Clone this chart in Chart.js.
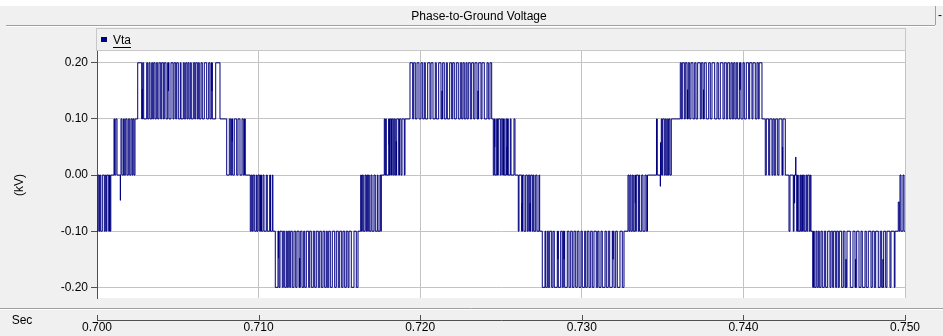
<!DOCTYPE html>
<html>
<head>
<meta charset="utf-8">
<script src="https://cdn.jsdelivr.net/npm/chart.js@4.4.1/dist/chart.umd.min.js"></script>
<style>
  html, body { margin: 0; padding: 0; background: #f0f0f0; }
  canvas { display: block; }
</style>
</head>
<body>
<canvas id="plot" width="943" height="336"></canvas>
<script>
// ---- text ----
const chartTitle = 'Phase-to-Ground Voltage';
const seriesName = 'Vta';
const yAxisTitle = '(kV)';
const xAxisTitle = 'Sec';

// ---- axes ----
const xTickValues = [0.70, 0.71, 0.72, 0.73, 0.74, 0.75];
const xTickLabels = ['0.700', '0.710', '0.720', '0.730', '0.740', '0.750'];
const yTickValues = [-0.2, -0.1, 0, 0.1, 0.2];
const yTickLabels = ['-0.20', '-0.10', '0.00', '0.10', '0.20'];

// ---- phase voltage Vta (kV) ----
const startLevel = -0.1;
// each switching band toggles between its lower and upper level
const bandLow  = [-0.1, 0, 0.1, 0, -0.1, -0.2, -0.1, 0, 0.1, 0, -0.1, -0.2, -0.1, 0, 0.1, 0, -0.1, -0.2, -0.1];
const bandHigh = [0, 0.1, 0.2, 0.1, 0, -0.1, 0, 0.1, 0.2, 0.1, 0, -0.1, 0, 0.1, 0.2, 0.1, 0, -0.1, 0];
// switching instants (s) inside each band
const bandEdges = [
  [0.700062, 0.700124, 0.700167, 0.700229, 0.700328, 0.700452, 0.700514, 0.700575, 0.700613, 0.700724, 0.700773, 0.700817, 0.700854],
  [0.701052, 0.701089, 0.701163, 0.701238, 0.701485, 0.701547, 0.701646, 0.701689, 0.701776, 0.701856, 0.701937, 0.702024, 0.702104, 0.702178, 0.702228, 0.702290, 0.702351],
  [0.702519, 0.702766, 0.702828, 0.702890, 0.703075, 0.703137, 0.703218, 0.703280, 0.703385, 0.703447, 0.703509, 0.703589, 0.703670, 0.703756, 0.703837, 0.703942, 0.704004, 0.704103, 0.704165, 0.704270, 0.704375, 0.704455, 0.704579, 0.704703, 0.704765, 0.704870, 0.704932, 0.705031, 0.705155, 0.705198, 0.705340, 0.705402, 0.705489, 0.705569, 0.705631, 0.705693, 0.705773, 0.705835, 0.705959, 0.706046, 0.706108, 0.706207, 0.706268, 0.706330, 0.706436, 0.706516, 0.706640, 0.706788, 0.706912, 0.706992, 0.707073, 0.707135, 0.707345, 0.707611],
  [0.708026, 0.708187, 0.708273, 0.708335, 0.708397, 0.708496, 0.708645, 0.708725, 0.708849, 0.708973, 0.709053, 0.709127, 0.709177],
  [0.709486, 0.709548, 0.709610, 0.709666, 0.709759, 0.709858, 0.709901, 0.709963, 0.710068, 0.710117, 0.710179, 0.710272, 0.710334, 0.710476, 0.710538, 0.710687, 0.710736, 0.710848, 0.710885],
  [0.711033, 0.711200, 0.711262, 0.711324, 0.711466, 0.711528, 0.711615, 0.711714, 0.711776, 0.711838, 0.711924, 0.711986, 0.712085, 0.712190, 0.712296, 0.712376, 0.712500, 0.712580, 0.712685, 0.712791, 0.712853, 0.712952, 0.713100, 0.713162, 0.713261, 0.713385, 0.713471, 0.713570, 0.713694, 0.713781, 0.713880, 0.713985, 0.714090, 0.714189, 0.714251, 0.714338, 0.714437, 0.714560, 0.714709, 0.714808, 0.714932, 0.715018, 0.715142, 0.715222, 0.715328, 0.715427, 0.715532, 0.715594, 0.715736, 0.715903, 0.716046, 0.716151],
  [0.716318, 0.716361, 0.716417, 0.716479, 0.716584, 0.716646, 0.716689, 0.716751, 0.716788, 0.716850, 0.716955, 0.717017, 0.717141, 0.717221, 0.717345, 0.717388, 0.717512, 0.717562, 0.717593],
  [0.717778, 0.717821, 0.717865, 0.717902, 0.718051, 0.718100, 0.718149, 0.718224, 0.718267, 0.718335, 0.718397, 0.718459, 0.718546, 0.718669, 0.718719, 0.718812, 0.718873, 0.719016, 0.719059],
  [0.719368, 0.719535, 0.719597, 0.719696, 0.719802, 0.719925, 0.720049, 0.720154, 0.720253, 0.720315, 0.720464, 0.720606, 0.720668, 0.720792, 0.720934, 0.720996, 0.721144, 0.721287, 0.721392, 0.721491, 0.721615, 0.721677, 0.721825, 0.721949, 0.722011, 0.722110, 0.722234, 0.722357, 0.722481, 0.722568, 0.722648, 0.722728, 0.722834, 0.722896, 0.722976, 0.723100, 0.723186, 0.723310, 0.723391, 0.723514, 0.723620, 0.723762, 0.723824, 0.723966, 0.724133, 0.724214, 0.724319, 0.724424],
  [0.724523, 0.724585, 0.724628, 0.724733, 0.724783, 0.724832, 0.724956, 0.725012, 0.725105, 0.725154, 0.725204, 0.725309, 0.725359, 0.725402, 0.725451, 0.725575, 0.725619, 0.725804, 0.725866],
  [0.726070, 0.726113, 0.726280, 0.726330, 0.726423, 0.726528, 0.726627, 0.726689, 0.726776, 0.726837, 0.726936, 0.726992, 0.727042, 0.727147, 0.727227, 0.727351, 0.727394],
  [0.727555, 0.727722, 0.727766, 0.727865, 0.727927, 0.728013, 0.728137, 0.728217, 0.728298, 0.728483, 0.728545, 0.728694, 0.728793, 0.728855, 0.728941, 0.729102, 0.729207, 0.729313, 0.729412, 0.729517, 0.729622, 0.729721, 0.729826, 0.729950, 0.730030, 0.730179, 0.730241, 0.730340, 0.730445, 0.730550, 0.730649, 0.730754, 0.730897, 0.730983, 0.731064, 0.731188, 0.731268, 0.731435, 0.731515, 0.731639, 0.731726, 0.731887, 0.731992, 0.732097, 0.732196, 0.732363, 0.732506, 0.732611],
  [0.732858, 0.732920, 0.732982, 0.733044, 0.733124, 0.733186, 0.733291, 0.733335, 0.733372, 0.733496, 0.733539, 0.733582, 0.733706, 0.733786, 0.733910, 0.733991, 0.734065],
  [0.734622, 0.734671, 0.734919, 0.734962, 0.735005, 0.735105, 0.735166, 0.735228, 0.735315, 0.735352, 0.735395, 0.735457, 0.735538],
  [0.736095, 0.736157, 0.736218, 0.736342, 0.736404, 0.736509, 0.736590, 0.736676, 0.736757, 0.736880, 0.736986, 0.737066, 0.737171, 0.737332, 0.737394, 0.737499, 0.737580, 0.737703, 0.737852, 0.737951, 0.738056, 0.738223, 0.738366, 0.738446, 0.738570, 0.738737, 0.738817, 0.738941, 0.739028, 0.739151, 0.739232, 0.739312, 0.739399, 0.739479, 0.739560, 0.739647, 0.739770, 0.739851, 0.739974, 0.740055, 0.740179, 0.740327, 0.740389, 0.740531, 0.740593, 0.740736, 0.740841, 0.740921, 0.740977, 0.741150],
  [0.741354, 0.741416, 0.741565, 0.741627, 0.741769, 0.741831, 0.741911, 0.741998, 0.742122, 0.742202, 0.742388, 0.742450, 0.742592],
  [0.742821, 0.742883, 0.743087, 0.743130, 0.743297, 0.743347, 0.743396, 0.743502, 0.743545, 0.743607, 0.743656, 0.743706, 0.743768, 0.743873, 0.743922, 0.743978, 0.744077, 0.744139, 0.744182],
  [0.744288, 0.744337, 0.744387, 0.744492, 0.744554, 0.744634, 0.744696, 0.744801, 0.744882, 0.745006, 0.745092, 0.745216, 0.745358, 0.745420, 0.745525, 0.745587, 0.745711, 0.745773, 0.745872, 0.745934, 0.746082, 0.746181, 0.746286, 0.746410, 0.746614, 0.746781, 0.746905, 0.747010, 0.747153, 0.747276, 0.747357, 0.747524, 0.747604, 0.747728, 0.747895, 0.747976, 0.748100, 0.748186, 0.748347, 0.748471, 0.748557, 0.748681, 0.748805, 0.748885, 0.749071, 0.749133, 0.749337, 0.749380],
  [0.749690, 0.749752, 0.749876, 0.749938]
];
// short partial excursions: [start s, end s, level kV]
const glitches = [
  [0.701442, 0.701452, -0.045],
  [0.702797, 0.702807, 0.153],
  [0.704412, 0.704422, 0.150],
  [0.707104, 0.707114, 0.150],
  [0.708366, 0.708376, 0.060],
  [0.711231, 0.711241, -0.148],
  [0.712537, 0.712547, -0.148],
  [0.718075, 0.718085, 0.054],
  [0.718515, 0.718525, 0.060],
  [0.721349, 0.721359, 0.150],
  [0.723576, 0.723586, 0.150],
  [0.724603, 0.724613, 0.050],
  [0.725371, 0.725381, 0.050],
  [0.726299, 0.726309, -0.050],
  [0.726794, 0.726804, -0.050],
  [0.728514, 0.728524, -0.150],
  [0.728898, 0.728908, -0.150],
  [0.731930, 0.731940, -0.150],
  [0.733310, 0.733320, -0.050],
  [0.734857, 0.734867, -0.020],
  [0.734876, 0.734886, 0.058],
  [0.736540, 0.736550, 0.152],
  [0.737530, 0.737540, 0.152],
  [0.739789, 0.739799, 0.152],
  [0.742419, 0.742429, 0.050],
  [0.743161, 0.743171, -0.050],
  [0.743236, 0.743246, 0.032],
  [0.746348, 0.746358, -0.150],
  [0.746936, 0.746946, -0.150],
  [0.748638, 0.748648, -0.150],
  [0.749584, 0.749646, -0.048]
];

// ---- colours ----
const traceColor = '#000080';
const gridColor = '#c3c3c3';
const axisColor = '#505050';
const panelColor = '#f0f0f0';
const fontFamily = '"Liberation Sans", Arial, sans-serif';

// build the stepped trace
const basePoints = [{ x: 0.70, y: startLevel }];
let level = startLevel;
bandEdges.forEach((edges, i) => {
  edges.forEach(t => {
    level = (level === bandLow[i]) ? bandHigh[i] : bandLow[i];
    basePoints.push({ x: t, y: level });
  });
});
basePoints.push({ x: 0.75, y: level });

function levelAt(t) {
  let v = basePoints[0].y;
  for (const p of basePoints) { if (p.x <= t) v = p.y; else break; }
  return v;
}
const glitchPoints = [];
glitches.forEach(([t0, t1, v]) => {
  const back = levelAt(t1);
  glitchPoints.push({ x: t0, y: v }, { x: t1, y: back });
});
const tracePoints = basePoints.concat(glitchPoints).sort((a, b) => a.x - b.x);

// panel decoration around the plot
const panelDecor = {
  id: 'panelDecor',
  beforeDraw(chart) {
    const c = chart.ctx, a = chart.chartArea, W = chart.width, H = chart.height;
    c.save();
    c.fillStyle = panelColor;
    c.fillRect(0, 0, W, H);
    c.fillStyle = '#ffffff';
    c.fillRect(0, 0, W, 6);
    // title band
    c.strokeStyle = '#a0a0a0';
    c.lineWidth = 1;
    c.beginPath();
    c.moveTo(6, 25.5); c.lineTo(935, 25.5);
    c.moveTo(935.5, 6); c.lineTo(935.5, 25);
    c.stroke();
    c.strokeStyle = '#ffffff';
    c.beginPath(); c.moveTo(6, 26.5); c.lineTo(935, 26.5); c.stroke();
    c.fillStyle = '#000';
    c.font = '12px ' + fontFamily;
    c.textAlign = 'center';
    c.textBaseline = 'middle';
    c.fillText(chartTitle, 479, 16.5);
    c.textAlign = 'left';
    c.fillText('-', 938, 16);
    // legend box
    c.strokeStyle = '#c8c8c8';
    c.strokeRect(96.5, 28.5, 809, 22);
    c.fillStyle = traceColor;
    c.fillRect(101, 37, 6, 5);
    c.fillStyle = '#000';
    c.textBaseline = 'alphabetic';
    c.fillText(seriesName, 113, 44);
    const w = c.measureText(seriesName).width;
    c.fillRect(113, 47, w, 1);
    // plot background
    c.fillStyle = '#ffffff';
    c.fillRect(a.left, a.top, a.right - a.left, a.bottom - a.top);
    // axis titles
    c.fillStyle = '#000';
    c.textAlign = 'center';
    c.textBaseline = 'middle';
    c.fillText(xAxisTitle, 22, 321);
    c.translate(20, 185);
    c.rotate(-Math.PI / 2);
    c.fillText(yAxisTitle, 0, 0);
    c.restore();
  },
  afterDraw(chart) {
    const c = chart.ctx, a = chart.chartArea, xs = chart.scales.x;
    c.save();
    // separator between plot and time axis
    c.strokeStyle = '#a0a0a0';
    c.lineWidth = 1;
    c.beginPath(); c.moveTo(0, 308.5); c.lineTo(chart.width, 308.5); c.stroke();
    c.strokeStyle = '#ffffff';
    c.beginPath(); c.moveTo(0, 309.5); c.lineTo(chart.width, 309.5); c.stroke();
    // time axis line with upward ticks
    c.strokeStyle = axisColor;
    c.beginPath();
    c.moveTo(a.left, 320.5); c.lineTo(a.right + 1, 320.5);
    xTickValues.forEach(v => {
      const px = Math.round(xs.getPixelForValue(v)) + 0.5;
      c.moveTo(px, 315); c.lineTo(px, 320.5);
    });
    c.stroke();
    c.restore();
  }
};

new Chart(document.getElementById('plot'), {
  type: 'line',
  data: {
    datasets: [{
      label: seriesName,
      data: tracePoints,
      borderColor: traceColor,
      borderWidth: 1,
      pointRadius: 0,
      stepped: true,
      fill: false
    }]
  },
  options: {
    responsive: false,
    animation: false,
    devicePixelRatio: 1,
    parsing: false,
    layout: { padding: { top: 51, right: 38, bottom: 0, left: 0 } },
    plugins: { legend: { display: false }, tooltip: { enabled: false }, title: { display: false } },
    scales: {
      x: {
        type: 'linear',
        min: 0.70,
        max: 0.75,
        afterBuildTicks: s => { s.ticks = xTickValues.map(v => ({ value: v })); },
        afterFit: s => { s.height = 38; },
        grid: { color: gridColor, drawTicks: false, lineWidth: 1 },
        border: { display: false },
        ticks: {
          callback: (v, i) => xTickLabels[i],
          padding: 22,
          autoSkip: false,
          maxRotation: 0,
          color: '#000',
          font: { family: fontFamily, size: 12 }
        }
      },
      y: {
        min: -0.219,
        max: 0.221,
        afterBuildTicks: s => { s.ticks = yTickValues.map(v => ({ value: v })); },
        afterFit: s => { s.width = 97; },
        grid: { color: gridColor, tickColor: axisColor, tickLength: 6, lineWidth: 1 },
        border: { display: true, color: axisColor },
        ticks: {
          callback: (v, i) => yTickLabels[i],
          padding: 3,
          color: '#000',
          font: { family: fontFamily, size: 12 }
        }
      }
    }
  },
  plugins: [panelDecor]
});
</script>
</body>
</html>
